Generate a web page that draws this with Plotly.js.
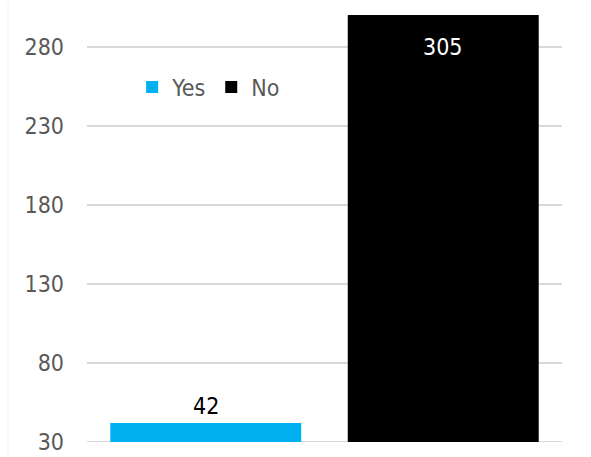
<!DOCTYPE html>
<html>
<head>
<meta charset="utf-8">
<script src="https://cdn.plot.ly/plotly-3.0.1.min.js"></script>
<style>html,body{margin:0;padding:0;background:#fff;}#chart{width:591px;height:457px;}</style>
</head>
<body>
<div id="chart"></div>
<script>
var categories = ['Yes', 'No'];
var values = [42, 305];
var colors = ['#00b0f0', '#000000'];
var labelColors = ['#000000', '#ffffff'];
var tickVals = [30, 80, 130, 180, 230, 280];
var yRange = [30, 300];

var FONT = '"DejaVu Sans Condensed", "DejaVu Sans", sans-serif';

var traces = categories.map(function (c, i) {
  return {
    type: 'bar',
    x: [c],
    y: [values[i]],
    name: c,
    marker: {color: colors[i], line: {width: 0}},
    hoverinfo: 'x+y'
  };
});

var annotations = [
  {x: categories[0], y: values[0], xref: 'x', yref: 'y', text: String(values[0]),
   showarrow: false, yanchor: 'bottom', yshift: 2,
   font: {family: FONT, size: 23, color: labelColors[0]}},
  {x: categories[1], y: Math.min(values[1], yRange[1]), xref: 'x', yref: 'y', text: String(values[1]),
   showarrow: false, yanchor: 'top', yshift: -17,
   font: {family: FONT, size: 23, color: labelColors[1]}}
];

var layout = {
  width: 591, height: 457,
  margin: {l: 87, r: 29, t: 15, b: 15, pad: 0},
  paper_bgcolor: '#ffffff', plot_bgcolor: '#ffffff',
  font: {family: FONT, size: 23, color: '#595959'},
  barmode: 'overlay',
  bargap: 0.196,
  showlegend: true,
  legend: {
    orientation: 'h', x: 0.095, y: 0.831, xanchor: 'left', yanchor: 'middle',
    bgcolor: 'rgba(0,0,0,0)', font: {family: FONT, size: 23, color: '#595959'},
    itemwidth: 30, traceorder: 'normal'
  },
  xaxis: {
    type: 'category', categoryorder: 'array', categoryarray: categories,
    showticklabels: false, showgrid: false, zeroline: false, showline: false, ticks: ''
  },
  yaxis: {
    range: yRange, tickvals: tickVals, ticktext: tickVals.map(String),
    showgrid: true, gridcolor: '#d9d9d9', gridwidth: 2,
    zeroline: false, showline: false, ticks: '', ticklabelstandoff: 22,
    tickfont: {family: FONT, size: 23, color: '#595959'}
  },
  annotations: annotations,
  shapes: [
    {type: 'line', xref: 'paper', yref: 'y', x0: 0, x1: 1, y0: tickVals[0], y1: tickVals[0],
     line: {color: '#d9d9d9', width: 2}, layer: 'below'},
    {type: 'line', xref: 'paper', yref: 'paper', x0: -0.1663, x1: -0.1663, y0: -0.03, y1: 1.03,
     line: {color: '#f0f0f0', width: 1}, layer: 'below'}
  ]
};

Plotly.newPlot('chart', traces, layout, {displayModeBar: false, staticPlot: true});
</script>
</body>
</html>
